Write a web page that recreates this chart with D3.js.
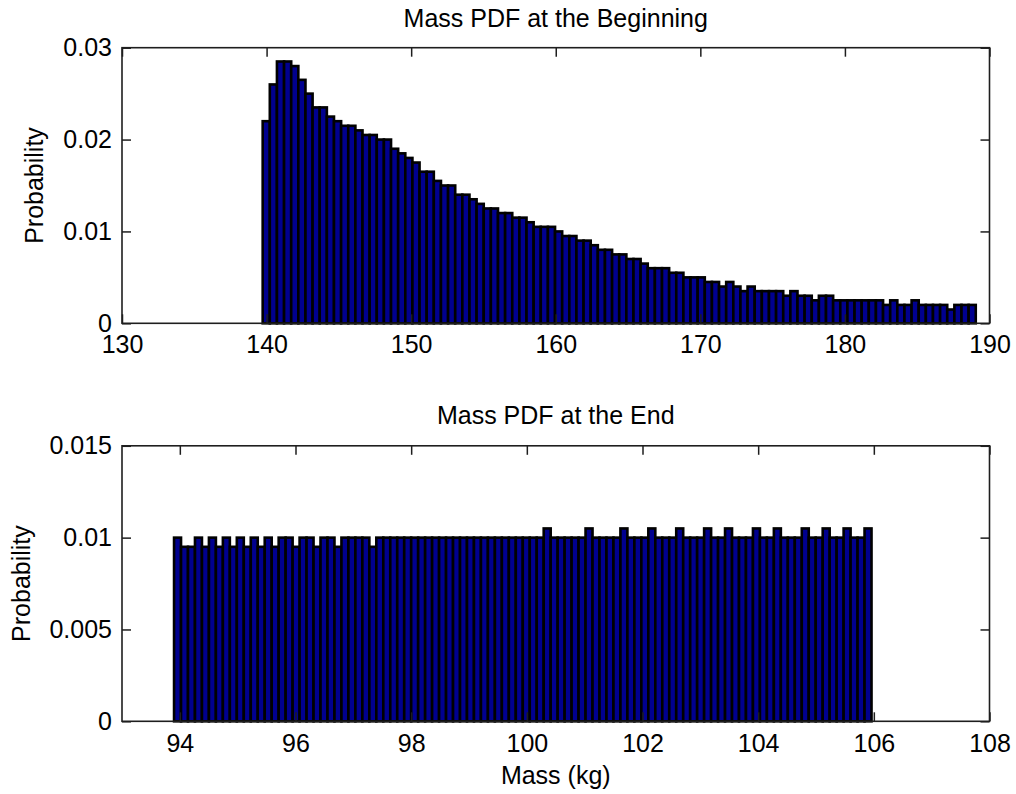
<!DOCTYPE html>
<html><head><meta charset="utf-8">
<script src="https://cdn.jsdelivr.net/npm/d3@7"></script>
<style>
html,body{margin:0;padding:0;background:#fff;}
svg{display:block;}
text{font-family:"Liberation Sans",Arial,Helvetica,sans-serif;fill:#000;}
</style></head><body>
<div id="chart"></div>
<script>
// ---------- data ----------
const topTitle = "Mass PDF at the Beginning";
const bottomTitle = "Mass PDF at the End";
const yLabelText = "Probability";
const xLabelText = "Mass (kg)";

const topXDomain = [130, 190];
const topYDomain = [0, 0.03];
const topXTicks = [130, 140, 150, 160, 170, 180, 190];
const topYTicks = [0, 0.01, 0.02, 0.03];
const topYTickLabels = ["0", "0.01", "0.02", "0.03"];
const topBinRange = [139.73, 189.05];
const topProb = [
  0.0220, 0.0260, 0.0285, 0.0285, 0.0280, 0.0265, 0.0250, 0.0235, 0.0235, 0.0225,
  0.0220, 0.0215, 0.0215, 0.0210, 0.0205, 0.0205, 0.0200, 0.0200, 0.0190, 0.0185,
  0.0180, 0.0175, 0.0165, 0.0165, 0.0155, 0.0150, 0.0150, 0.0140, 0.0140, 0.0135,
  0.0130, 0.0125, 0.0125, 0.0120, 0.0120, 0.0115, 0.0115, 0.0110, 0.0105, 0.0105,
  0.0105, 0.0100, 0.0095, 0.0095, 0.0090, 0.0090, 0.0085, 0.0080, 0.0080, 0.0075,
  0.0075, 0.0070, 0.0070, 0.0065, 0.0060, 0.0060, 0.0060, 0.0055, 0.0055, 0.0050,
  0.0050, 0.0050, 0.0045, 0.0045, 0.0040, 0.0045, 0.0040, 0.0035, 0.0040, 0.0035,
  0.0035, 0.0035, 0.0035, 0.0030, 0.0035, 0.0030, 0.0030, 0.0025, 0.0030, 0.0030,
  0.0025, 0.0025, 0.0025, 0.0025, 0.0025, 0.0025, 0.0025, 0.0020, 0.0025, 0.0020,
  0.0020, 0.0025, 0.0020, 0.0020, 0.0020, 0.0020, 0.0015, 0.0020, 0.0020, 0.0020
];

const bottomXDomain = [93, 108];
const bottomYDomain = [0, 0.015];
const bottomXTicks = [94, 96, 98, 100, 102, 104, 106, 108];
const bottomYTicks = [0, 0.005, 0.01, 0.015];
const bottomYTickLabels = ["0", "0.005", "0.01", "0.015"];
const bottomBinRange = [93.90, 105.96];
const bottomProb = [
  0.0100, 0.0095, 0.0095, 0.0100, 0.0095, 0.0100, 0.0095, 0.0100, 0.0095, 0.0100,
  0.0095, 0.0100, 0.0095, 0.0100, 0.0095, 0.0100, 0.0100, 0.0095, 0.0100, 0.0100,
  0.0095, 0.0100, 0.0100, 0.0095, 0.0100, 0.0100, 0.0100, 0.0100, 0.0095, 0.0100,
  0.0100, 0.0100, 0.0100, 0.0100, 0.0100, 0.0100, 0.0100, 0.0100, 0.0100, 0.0100,
  0.0100, 0.0100, 0.0100, 0.0100, 0.0100, 0.0100, 0.0100, 0.0100, 0.0100, 0.0100,
  0.0100, 0.0100, 0.0100, 0.0105, 0.0100, 0.0100, 0.0100, 0.0100, 0.0100, 0.0105,
  0.0100, 0.0100, 0.0100, 0.0100, 0.0105, 0.0100, 0.0100, 0.0100, 0.0105, 0.0100,
  0.0100, 0.0100, 0.0105, 0.0100, 0.0100, 0.0100, 0.0105, 0.0100, 0.0100, 0.0105,
  0.0100, 0.0100, 0.0100, 0.0105, 0.0100, 0.0100, 0.0105, 0.0100, 0.0100, 0.0100,
  0.0105, 0.0100, 0.0100, 0.0105, 0.0100, 0.0100, 0.0105, 0.0100, 0.0100, 0.0105
];

// ---------- layout ----------
const W = 1016, H = 794;
const L = 122, R = 989.5;
const FONT = 25;
const BAR_FILL = "#00008f";
const AX_COLOR = "#1e1e1e";

const svg = d3.select("#chart").append("svg").attr("width", W).attr("height", H);
svg.append("rect").attr("width", W).attr("height", H).attr("fill", "#fff");

function panel(cfg) {
  const x = d3.scaleLinear().domain(cfg.xDomain).range([L, R]);
  const y = d3.scaleLinear().domain(cfg.yDomain).range([cfg.bottom, cfg.top]);
  const n = cfg.prob.length;
  const bw = (cfg.binRange[1] - cfg.binRange[0]) / n;
  const bins = cfg.prob.map((p, i) => ({
    x0: cfg.binRange[0] + i * bw,
    x1: cfg.binRange[0] + (i + 1) * bw,
    p
  }));

  const g = svg.append("g");

  g.append("g").selectAll("rect").data(bins).join("rect")
    .attr("x", d => x(d.x0))
    .attr("width", d => x(d.x1) - x(d.x0))
    .attr("y", d => y(d.p))
    .attr("height", d => y(0) - y(d.p))
    .attr("fill", BAR_FILL)
    .attr("stroke", "#000")
    .attr("stroke-width", 2.6);

  const tickLen = 9;
  const style = sel => {
    sel.select(".domain").remove();
    sel.selectAll(".tick line").attr("stroke", AX_COLOR).attr("stroke-width", 1.5);
    sel.selectAll(".tick text").attr("font-size", FONT).attr("fill", "#000")
      .attr("font-family", '"Liberation Sans",Arial,Helvetica,sans-serif');
  };

  g.append("g").attr("transform", `translate(0,${cfg.bottom})`)
    .call(d3.axisBottom(x).tickValues(cfg.xTicks).tickFormat(d3.format("d"))
      .tickSizeInner(-tickLen).tickSizeOuter(0).tickPadding(cfg.xPad))
    .call(style);
  g.append("g").attr("transform", `translate(0,${cfg.top})`)
    .call(d3.axisTop(x).tickValues(cfg.xTicks).tickFormat("")
      .tickSizeInner(-tickLen).tickSizeOuter(0))
    .call(style);
  g.append("g").attr("transform", `translate(${L},0)`)
    .call(d3.axisLeft(y).tickValues(cfg.yTicks).tickFormat((d, i) => cfg.yTickLabels[i])
      .tickSizeInner(-tickLen).tickSizeOuter(0).tickPadding(10))
    .call(style);
  g.append("g").attr("transform", `translate(${R},0)`)
    .call(d3.axisRight(y).tickValues(cfg.yTicks).tickFormat("")
      .tickSizeInner(-tickLen).tickSizeOuter(0))
    .call(style);

  g.append("rect")
    .attr("x", L).attr("y", cfg.top)
    .attr("width", R - L).attr("height", cfg.bottom - cfg.top)
    .attr("fill", "none").attr("stroke", AX_COLOR).attr("stroke-width", 1.6);

  g.append("text")
    .attr("x", (L + R) / 2).attr("y", cfg.titleY)
    .attr("text-anchor", "middle").attr("font-size", FONT)
    .text(cfg.title);

  g.append("text")
    .attr("transform", `translate(${cfg.yLabelX},${(cfg.top + cfg.bottom) / 2}) rotate(-90)`)
    .attr("text-anchor", "middle").attr("font-size", FONT)
    .text(yLabelText);

  if (cfg.xLabel) {
    g.append("text")
      .attr("x", (L + R) / 2).attr("y", cfg.xLabelY)
      .attr("text-anchor", "middle").attr("font-size", FONT)
      .text(cfg.xLabel);
  }
}

panel({
  top: 47.7, bottom: 323.3,
  xDomain: topXDomain, yDomain: topYDomain,
  xTicks: topXTicks, yTicks: topYTicks, yTickLabels: topYTickLabels,
  binRange: topBinRange, prob: topProb,
  title: topTitle, titleY: 27, yLabelX: 43, xPad: 12
});

panel({
  top: 445.8, bottom: 721.3,
  xDomain: bottomXDomain, yDomain: bottomYDomain,
  xTicks: bottomXTicks, yTicks: bottomYTicks, yTickLabels: bottomYTickLabels,
  binRange: bottomBinRange, prob: bottomProb,
  title: bottomTitle, titleY: 424, yLabelX: 30, xPad: 13,
  xLabel: xLabelText, xLabelY: 784
});
</script>
</body></html>
